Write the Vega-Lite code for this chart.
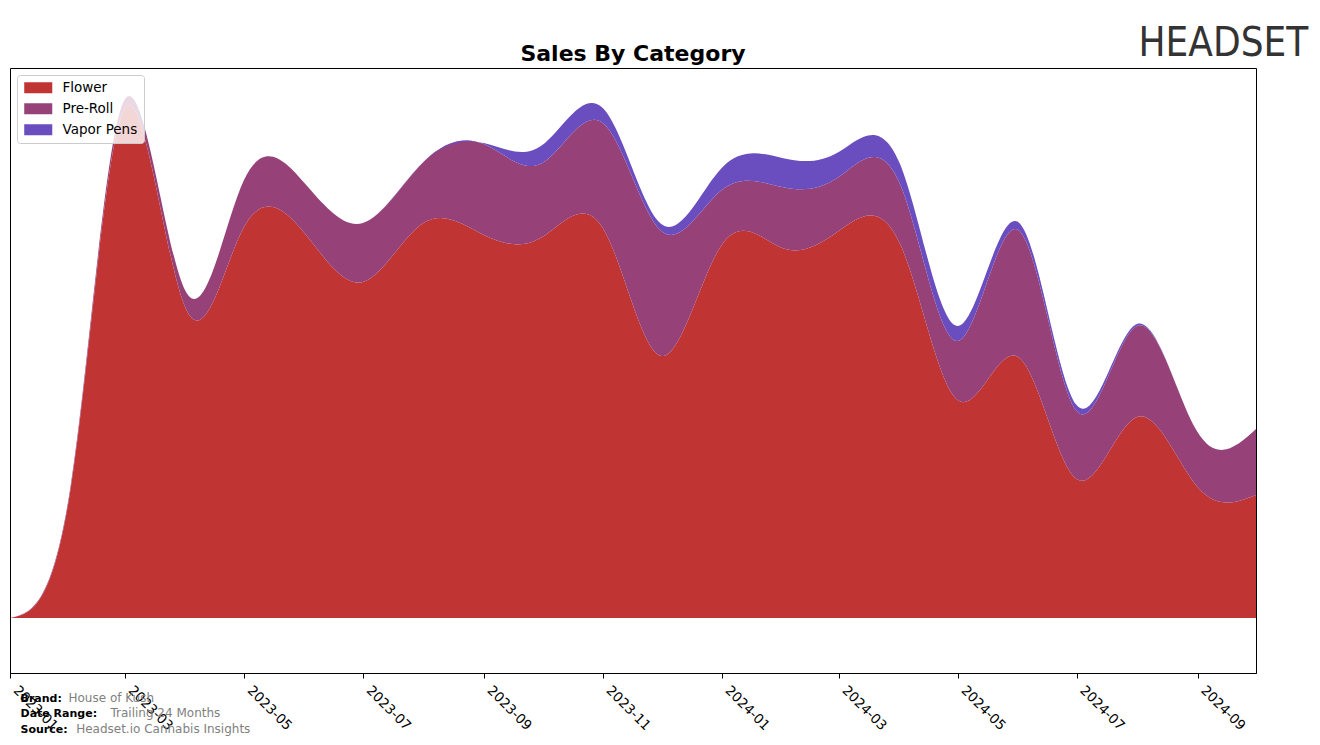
{
  "$schema": "https://vega.github.io/schema/vega-lite/v6.json",
  "width": 1246,
  "height": 605,
  "autosize": {"type": "none"},
  "padding": {"left": 10, "top": 68, "right": 64, "bottom": 72},
  "background": "white",
  "config": {"view": {"stroke": "black", "strokeWidth": 1}, "font": "DejaVu Sans"},
  "title": {"text": "Sales By Category", "font": "DejaVu Sans", "fontSize": 22, "fontWeight": "bold", "color": "black", "anchor": "middle", "offset": -43},
  "data": {"values": [
    {"month": "2023-01-01T00:00:00", "category": "Flower", "sales": 0},
    {"month": "2023-02-01T00:00:00", "category": "Flower", "sales": 128},
    {"month": "2023-03-01T00:00:00", "category": "Flower", "sales": 510},
    {"month": "2023-04-01T00:00:00", "category": "Flower", "sales": 310},
    {"month": "2023-05-01T00:00:00", "category": "Flower", "sales": 391},
    {"month": "2023-06-01T00:00:00", "category": "Flower", "sales": 385},
    {"month": "2023-07-01T00:00:00", "category": "Flower", "sales": 336},
    {"month": "2023-08-01T00:00:00", "category": "Flower", "sales": 395},
    {"month": "2023-09-01T00:00:00", "category": "Flower", "sales": 383},
    {"month": "2023-10-01T00:00:00", "category": "Flower", "sales": 381},
    {"month": "2023-11-01T00:00:00", "category": "Flower", "sales": 390},
    {"month": "2023-12-01T00:00:00", "category": "Flower", "sales": 262},
    {"month": "2024-01-01T00:00:00", "category": "Flower", "sales": 373},
    {"month": "2024-02-01T00:00:00", "category": "Flower", "sales": 370},
    {"month": "2024-03-01T00:00:00", "category": "Flower", "sales": 387},
    {"month": "2024-04-01T00:00:00", "category": "Flower", "sales": 376},
    {"month": "2024-05-01T00:00:00", "category": "Flower", "sales": 218},
    {"month": "2024-06-01T00:00:00", "category": "Flower", "sales": 261},
    {"month": "2024-07-01T00:00:00", "category": "Flower", "sales": 139},
    {"month": "2024-08-01T00:00:00", "category": "Flower", "sales": 201},
    {"month": "2024-09-01T00:00:00", "category": "Flower", "sales": 131},
    {"month": "2024-10-01T00:00:00", "category": "Flower", "sales": 123},
    {"month": "2023-01-01T00:00:00", "category": "Pre-Roll", "sales": 0},
    {"month": "2023-02-01T00:00:00", "category": "Pre-Roll", "sales": 3},
    {"month": "2023-03-01T00:00:00", "category": "Pre-Roll", "sales": 9},
    {"month": "2023-04-01T00:00:00", "category": "Pre-Roll", "sales": 17},
    {"month": "2023-05-01T00:00:00", "category": "Pre-Roll", "sales": 47},
    {"month": "2023-06-01T00:00:00", "category": "Pre-Roll", "sales": 50},
    {"month": "2023-07-01T00:00:00", "category": "Pre-Roll", "sales": 59},
    {"month": "2023-08-01T00:00:00", "category": "Pre-Roll", "sales": 61},
    {"month": "2023-09-01T00:00:00", "category": "Pre-Roll", "sales": 91},
    {"month": "2023-10-01T00:00:00", "category": "Pre-Roll", "sales": 74},
    {"month": "2023-11-01T00:00:00", "category": "Pre-Roll", "sales": 105},
    {"month": "2023-12-01T00:00:00", "category": "Pre-Roll", "sales": 125},
    {"month": "2024-01-01T00:00:00", "category": "Pre-Roll", "sales": 55},
    {"month": "2024-02-01T00:00:00", "category": "Pre-Roll", "sales": 61},
    {"month": "2024-03-01T00:00:00", "category": "Pre-Roll", "sales": 54},
    {"month": "2024-04-01T00:00:00", "category": "Pre-Roll", "sales": 60},
    {"month": "2024-05-01T00:00:00", "category": "Pre-Roll", "sales": 59},
    {"month": "2024-06-01T00:00:00", "category": "Pre-Roll", "sales": 127},
    {"month": "2024-07-01T00:00:00", "category": "Pre-Roll", "sales": 68},
    {"month": "2024-08-01T00:00:00", "category": "Pre-Roll", "sales": 91},
    {"month": "2024-09-01T00:00:00", "category": "Pre-Roll", "sales": 55},
    {"month": "2024-10-01T00:00:00", "category": "Pre-Roll", "sales": 66},
    {"month": "2023-01-01T00:00:00", "category": "Vapor Pens", "sales": 0},
    {"month": "2023-02-01T00:00:00", "category": "Vapor Pens", "sales": 0},
    {"month": "2023-03-01T00:00:00", "category": "Vapor Pens", "sales": 0},
    {"month": "2023-04-01T00:00:00", "category": "Vapor Pens", "sales": 0},
    {"month": "2023-05-01T00:00:00", "category": "Vapor Pens", "sales": 0},
    {"month": "2023-06-01T00:00:00", "category": "Vapor Pens", "sales": 0},
    {"month": "2023-07-01T00:00:00", "category": "Vapor Pens", "sales": 0},
    {"month": "2023-08-01T00:00:00", "category": "Vapor Pens", "sales": 0},
    {"month": "2023-09-01T00:00:00", "category": "Vapor Pens", "sales": 1},
    {"month": "2023-10-01T00:00:00", "category": "Vapor Pens", "sales": 18},
    {"month": "2023-11-01T00:00:00", "category": "Vapor Pens", "sales": 15},
    {"month": "2023-12-01T00:00:00", "category": "Vapor Pens", "sales": 7},
    {"month": "2024-01-01T00:00:00", "category": "Vapor Pens", "sales": 22},
    {"month": "2024-02-01T00:00:00", "category": "Vapor Pens", "sales": 29},
    {"month": "2024-03-01T00:00:00", "category": "Vapor Pens", "sales": 25},
    {"month": "2024-04-01T00:00:00", "category": "Vapor Pens", "sales": 20},
    {"month": "2024-05-01T00:00:00", "category": "Vapor Pens", "sales": 15},
    {"month": "2024-06-01T00:00:00", "category": "Vapor Pens", "sales": 8},
    {"month": "2024-07-01T00:00:00", "category": "Vapor Pens", "sales": 6},
    {"month": "2024-08-01T00:00:00", "category": "Vapor Pens", "sales": 2},
    {"month": "2024-09-01T00:00:00", "category": "Vapor Pens", "sales": 0},
    {"month": "2024-10-01T00:00:00", "category": "Vapor Pens", "sales": 0}
  ]},
  "layer": [
    {
      "mark": {"type": "area", "interpolate": "natural", "clip": true},
      "encoding": {
        "x": {
          "field": "month", "type": "temporal",
          "scale": {"domain": [{"year": 2023, "month": 1, "date": 1}, {"year": 2024, "month": 10, "date": 1}]},
          "axis": {
            "format": "%Y-%m", "tickCount": {"interval": "month", "step": 2},
            "labelAngle": 45, "labelAlign": "left", "labelBaseline": "top", "labelPadding": 5, "labelOffset": 10,
            "labelFont": "DejaVu Sans", "labelFontSize": 13.5, "labelColor": "black",
            "labelOverlap": false, "labelFlush": false, "labelBound": false, "grid": false,
            "tickColor": "black", "tickSize": 5, "domainColor": "black",
            "title": ["Brand:", "Date Range:", "Source:"],
            "titleFont": "DejaVu Sans", "titleFontSize": 11, "titleFontWeight": "bold", "titleColor": "black",
            "titleX": 10, "titleY": 28, "titleAlign": "left", "titleAnchor": "start", "titleBaseline": "alphabetic", "titleLineHeight": 15.5
          }
        },
        "y": {
          "field": "sales", "type": "quantitative", "stack": "zero",
          "scale": {"domain": [-55, 550], "nice": false, "zero": false},
          "axis": {
            "orient": "right", "domain": false, "ticks": false, "labels": false, "grid": false,
            "title": "HEADSET", "titleAngle": 0, "titleX": -118, "titleY": -13,
            "titleAlign": "left", "titleBaseline": "alphabetic",
            "titleFont": "DejaVu Sans Condensed", "titleFontSize": 40, "titleFontWeight": "normal", "titleColor": "#333333"
          }
        },
        "color": {
          "field": "category", "type": "nominal",
          "scale": {"domain": ["Flower", "Pre-Roll", "Vapor Pens"], "range": ["#c13434", "#964278", "#6a4ebf"]},
          "legend": {
            "title": null, "orient": "top-left", "offset": 7,
            "fillColor": "rgba(255,255,255,0.8)", "strokeColor": "#cccccc", "cornerRadius": 3, "padding": 6,
            "symbolType": "M-2.55,-1L2.55,-1L2.55,1L-2.55,1Z", "symbolSize": 121, "symbolOffset": 8.5, "symbolStrokeWidth": 0, "symbolOpacity": 1,
            "labelFont": "DejaVu Sans", "labelFontSize": 13.5, "labelColor": "black", "labelOffset": 17.5, "rowPadding": 6
          }
        },
        "order": {"field": "category", "sort": "ascending"}
      }
    },
    {
      "mark": {"type": "rule", "opacity": 0},
      "encoding": {
        "x": {
          "field": "month", "type": "temporal",
          "axis": {
            "orient": "top", "domain": false, "ticks": false, "labels": false, "grid": false,
            "title": ["House of Kush", "\u200b\u00a0\u00a0\u00a0\u00a0\u00a0\u00a0\u00a0\u00a0\u00a0\u00a0\u00a0Trailing 24 Months", "\u200b\u00a0\u00a0Headset.io Cannabis Insights"],
            "titleFont": "DejaVu Sans", "titleFontSize": 12, "titleFontWeight": "normal", "titleColor": "#808080",
            "titleX": 58, "titleY": 633, "titleAlign": "left", "titleAnchor": "start", "titleBaseline": "alphabetic", "titleLineHeight": 15.5
          }
        }
      }
    }
  ],
  "resolve": {"axis": {"x": "independent"}}
}
